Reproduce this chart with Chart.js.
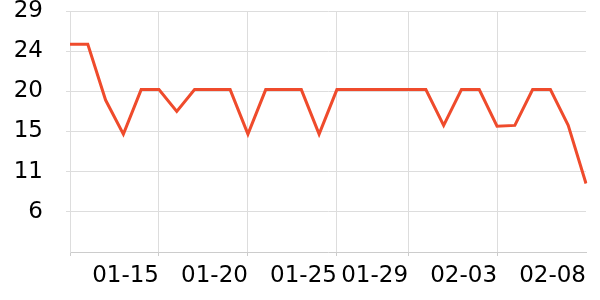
<!DOCTYPE html>
<html>
<head>
<meta charset="utf-8">
<script src="https://cdn.jsdelivr.net/npm/chart.js@4/dist/chart.umd.min.js"></script>
<style>
  html, body { margin: 0; padding: 0; background: #fff; }
  #wrap { width: 600px; height: 300px; }
</style>
</head>
<body>
<div id="wrap"><canvas id="chart" width="600" height="300"></canvas></div>
<script>
// Dates (daily, 01-10 .. 02-08)
const dates = [
  '01-10', '01-11', '01-12', '01-13', '01-14', '01-15', '01-16', '01-17', '01-18', '01-19',
  '01-20', '01-21', '01-22', '01-23', '01-24', '01-25', '01-26', '01-27', '01-28', '01-29',
  '01-30', '01-31', '02-01', '02-02', '02-03', '02-04', '02-05', '02-06', '02-07', '02-08'
];

// Values
const values = [
  25.2, 25.2, 18.8, 14.9, 20.0, 20.0, 17.5, 20.0, 20.0, 20.0,
  14.9, 20.0, 20.0, 20.0, 14.9, 20.0, 20.0, 20.0, 20.0, 20.0,
  20.0, 15.9, 20.0, 20.0, 15.8, 15.9, 20.0, 20.0, 15.9, 9.25
];

// Labels shown on the x axis
const shownDates = ['01-15', '01-20', '01-25', '01-29', '02-03', '02-08'];
// Y axis range
const yMin = 1.4;
const yMax = 29;
const yStep = 4.6;

const gridColor = '#dddddd';
const lineColor = '#ef4b2c';

function isShown(i) {
  return shownDates.includes(dates[i]);
}

const ctx = document.getElementById('chart').getContext('2d');
new Chart(ctx, {
  type: 'line',
  data: {
    labels: dates,
    datasets: [{
      data: values,
      borderColor: lineColor,
      borderWidth: 3,
      pointRadius: 0,
      tension: 0,
      fill: false
    }]
  },
  options: {
    responsive: false,
    animation: false,
    layout: { padding: { top: 11, right: 14, left: 0, bottom: 0 } },
    plugins: {
      legend: { display: false },
      tooltip: { enabled: false }
    },
    scales: {
      x: {
        offset: false,
        grid: {
          color: (c) => (c.index > 0 && c.index < dates.length - 1 && isShown(c.index)) ? gridColor : 'rgba(0,0,0,0)',
          tickLength: 4,
          tickColor: (c) => (c.index === 0 || isShown(c.index)) && c.index < dates.length - 1 ? '#cccccc' : 'rgba(0,0,0,0)'
        },
        border: { color: '#cccccc' },
        ticks: {
          autoSkip: false,
          maxRotation: 0,
          minRotation: 0,
          align: 'end',
          padding: 6,
          color: '#000',
          font: { family: 'DejaVu Sans', size: 23 },
          callback: function (v, i) { return isShown(i) ? dates[i] : ''; }
        },
        afterFit: (s) => { s.height = 48; s.paddingLeft = 0; s.paddingRight = 0; }
      },
      y: {
        min: yMin,
        max: yMax,
        grid: {
          color: (c) => c.index === 0 ? 'rgba(0,0,0,0)' : gridColor,
          tickLength: 4
        },
        border: { color: gridColor },
        ticks: {
          stepSize: yStep,
          padding: 23,
          color: '#000',
          font: { family: 'DejaVu Sans', size: 23 },
          callback: function (v, i) { return i === 0 ? '' : Math.round(v); }
        },
        afterFit: (s) => { s.width = 70; s.paddingTop = 0; s.paddingBottom = 0; }
      }
    }
  }
});
</script>
</body>
</html>
